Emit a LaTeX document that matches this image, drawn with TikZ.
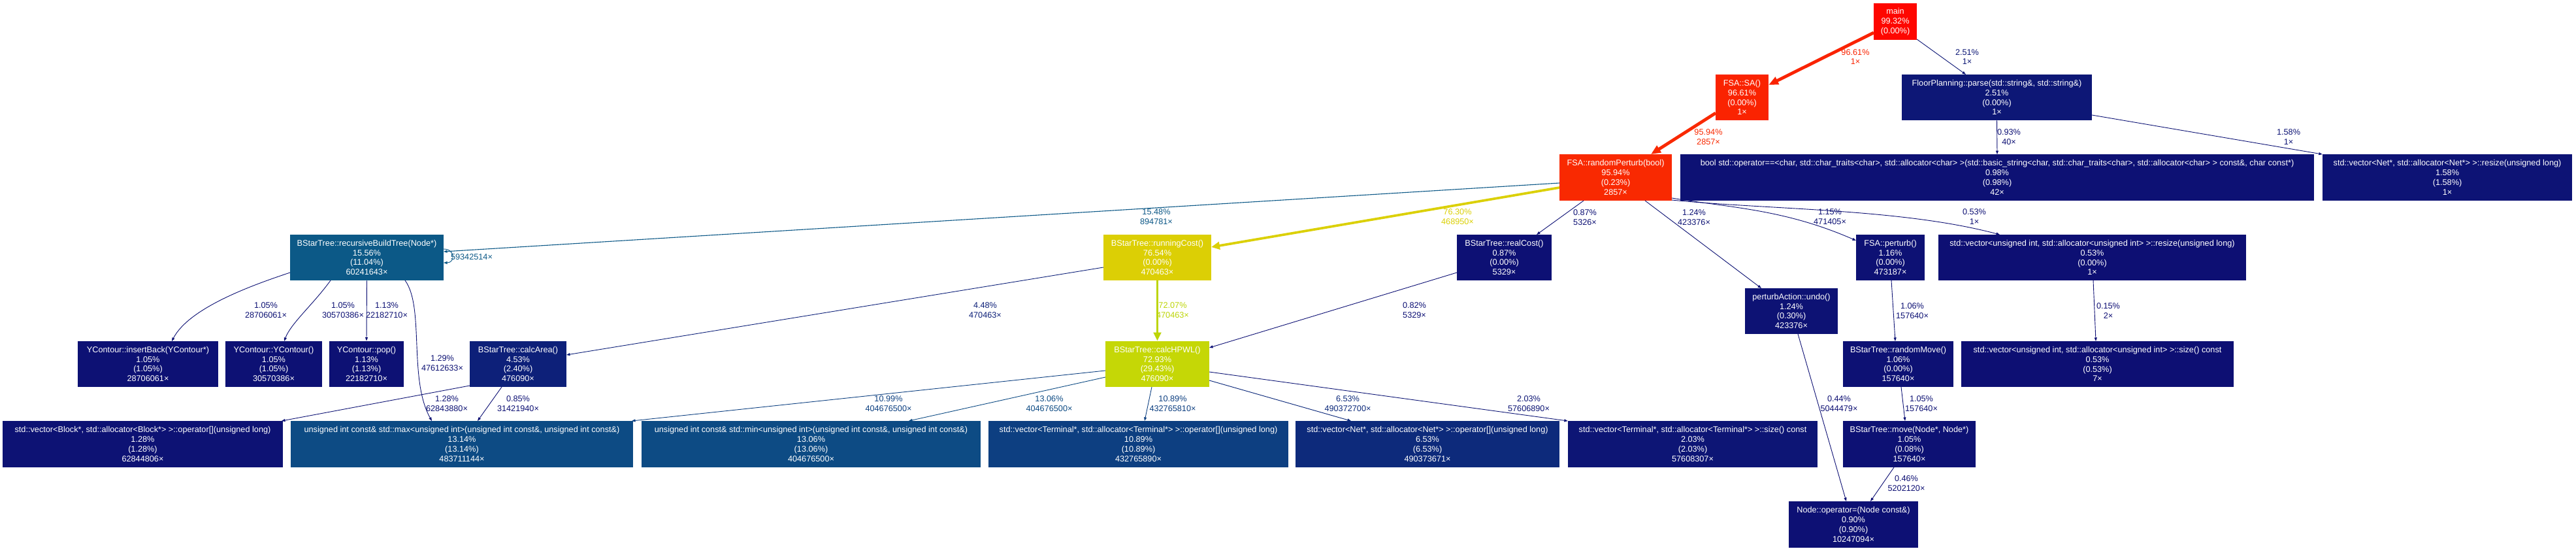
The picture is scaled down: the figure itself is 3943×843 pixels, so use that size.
\documentclass[tikz,border=0pt]{standalone}
\usepackage{fontspec}
\setmainfont{Liberation Sans}
\usetikzlibrary{arrows.meta,calc}
\definecolor{cMain}{RGB}{254,7,0}
\definecolor{cSA}{RGB}{250,35,1}
\definecolor{cRP}{RGB}{249,41,1}
\definecolor{cRC}{RGB}{220,207,5}
\definecolor{cRCe}{RGB}{219,208,5}
\definecolor{cHP}{RGB}{197,215,6}
\definecolor{cHPe}{RGB}{189,213,6}
\definecolor{cRBT}{RGB}{12,89,135}
\definecolor{cRBTe}{RGB}{12,88,135}
\definecolor{cMax}{RGB}{13,75,132}
\definecolor{cMaxE}{RGB}{13,64,129}
\definecolor{cTerm}{RGB}{13,63,129}
\definecolor{cNet}{RGB}{13,42,123}
\definecolor{cArea}{RGB}{13,32,121}
\definecolor{cFP}{RGB}{13,23,118}
\definecolor{cTs}{RGB}{13,21,117}
\definecolor{cN19}{RGB}{13,19,117}
\definecolor{cN18}{RGB}{13,18,116}
\definecolor{cN17}{RGB}{13,17,116}
\definecolor{cN16}{RGB}{13,16,116}
\definecolor{cN15}{RGB}{13,15,115}
\definecolor{cN13}{RGB}{13,13,115}
\newcommand\gpfont{\fontsize{12.7}{14.8}\selectfont}
\begin{document}
\begin{tikzpicture}[x=1pt,y=-1pt,
  fn/.style={rectangle, fill=#1, text=white, inner sep=0pt, minimum height=70.5pt, align=center, font=\gpfont},
  lb/.style={text=#1, inner sep=0pt, align=center, font=\gpfont},
  ed/.style={draw=#1, line width=0.9pt, -{Triangle[length=5.5pt,width=4pt]}},
  edthick/.style={draw=#1, line width=4.8pt, -{Triangle[length=15pt,width=12pt]}},
  edmid/.style={draw=#1, line width=3.7pt, -{Triangle[length=13pt,width=11.5pt]}}
]
\fill[white] (0,0) rectangle (3943,843);
\useasboundingbox (0,0) rectangle (3943,843);

% nodes
\node[fn=cMain, minimum width=66pt, minimum height=56pt] (main) at (2901,33) {main\\99.32\%\\(0.00\%)};
\node[fn=cSA, minimum width=81pt] (SA) at (2666.5,149) {FSA::SA()\\96.61\%\\(0.00\%)\\1×};
\node[fn=cFP, minimum width=291pt] (FP) at (3056.5,149) {FloorPlanning::parse(std::string\&, std::string\&)\\2.51\%\\(0.00\%)\\1×};
\node[fn=cRP, minimum width=172pt] (RP) at (2473,271.5) {FSA::randomPerturb(bool)\\95.94\%\\(0.23\%)\\2857×};
\node[fn=cN17, minimum width=970pt] (bool) at (3057,271.5) {bool std::operator==<char, std::char\_traits<char>, std::allocator<char> >(std::basic\_string<char, std::char\_traits<char>, std::allocator<char> > const\&, char const*)\\0.98\%\\(0.98\%)\\42×};
\node[fn=cN19, minimum width=382pt] (Netres) at (3746,271.5) {std::vector<Net*, std::allocator<Net*> >::resize(unsigned long)\\1.58\%\\(1.58\%)\\1×};
\node[fn=cRBT, minimum width=235pt] (RBT) at (561.5,394) {BStarTree::recursiveBuildTree(Node*)\\15.56\%\\(11.04\%)\\60241643×};
\node[fn=cRC, minimum width=165pt] (RC) at (1771.5,394) {BStarTree::runningCost()\\76.54\%\\(0.00\%)\\470463×};
\node[fn=cN16, minimum width=145pt] (realCost) at (2302.5,394) {BStarTree::realCost()\\0.87\%\\(0.00\%)\\5329×};
\node[fn=cN17, minimum width=105pt] (perturb) at (2893.5,394) {FSA::perturb()\\1.16\%\\(0.00\%)\\473187×};
\node[fn=cN15, minimum width=471pt] (uintres) at (3202.5,394) {std::vector<unsigned int, std::allocator<unsigned int> >::resize(unsigned long)\\0.53\%\\(0.00\%)\\1×};
\node[fn=cN18, minimum width=142pt] (undo) at (2742,476) {perturbAction::undo()\\1.24\%\\(0.30\%)\\423376×};
\node[fn=cN17, minimum width=215pt] (insertBack) at (226.5,557) {YContour::insertBack(YContour*)\\1.05\%\\(1.05\%)\\28706061×};
\node[fn=cN17, minimum width=148pt] (YContour) at (419,557) {YContour::YContour()\\1.05\%\\(1.05\%)\\30570386×};
\node[fn=cN17, minimum width=114pt] (pop) at (561,557) {YContour::pop()\\1.13\%\\(1.13\%)\\22182710×};
\node[fn=cArea, minimum width=148pt] (calcArea) at (793,557) {BStarTree::calcArea()\\4.53\%\\(2.40\%)\\476090×};
\node[fn=cHP, minimum width=159pt] (HPWL) at (1771.5,557) {BStarTree::calcHPWL()\\72.93\%\\(29.43\%)\\476090×};
\node[fn=cN17, minimum width=169pt] (randomMove) at (2905.5,557) {BStarTree::randomMove()\\1.06\%\\(0.00\%)\\157640×};
\node[fn=cN15, minimum width=417pt] (uintsize) at (3210.5,557) {std::vector<unsigned int, std::allocator<unsigned int> >::size() const\\0.53\%\\(0.53\%)\\7×};
\node[fn=cN18, minimum width=429pt] (Block) at (218.5,679.5) {std::vector<Block*, std::allocator<Block*> >::operator[](unsigned long)\\1.28\%\\(1.28\%)\\62844806×};
\node[fn=cMax, minimum width=524pt] (max) at (707,679.5) {unsigned int const\& std::max<unsigned int>(unsigned int const\&, unsigned int const\&)\\13.14\%\\(13.14\%)\\483711144×};
\node[fn=cMax, minimum width=519pt] (min) at (1241.5,679.5) {unsigned int const\& std::min<unsigned int>(unsigned int const\&, unsigned int const\&)\\13.06\%\\(13.06\%)\\404676500×};
\node[fn=cTerm, minimum width=459pt] (Terminal) at (1742.5,679.5) {std::vector<Terminal*, std::allocator<Terminal*> >::operator[](unsigned long)\\10.89\%\\(10.89\%)\\432765890×};
\node[fn=cNet, minimum width=404pt] (Net) at (2185,679.5) {std::vector<Net*, std::allocator<Net*> >::operator[](unsigned long)\\6.53\%\\(6.53\%)\\490373671×};
\node[fn=cTs, minimum width=382pt] (Tsize) at (2591,679.5) {std::vector<Terminal*, std::allocator<Terminal*> >::size() const\\2.03\%\\(2.03\%)\\57608307×};
\node[fn=cN17, minimum width=203pt] (move) at (2922.5,679.5) {BStarTree::move(Node*, Node*)\\1.05\%\\(0.08\%)\\157640×};
\node[fn=cN16, minimum width=198pt] (nodeeq) at (2837,802.5) {Node::operator=(Node const\&)\\0.90\%\\(0.90\%)\\10247094×};

% edges
\draw[edthick=cSA] ($(main)+(-33,17)$) -- ($(SA)+(40.5,-19)$);
\draw[ed=cFP] ($(main)+(33,27)$) -- ($(FP)+(-47.5,-35)$);
\draw[edthick=cRP] ($(SA)+(-40.5,24)$) -- ($(RP)+(54,-35.5)$);
\draw[ed=cN16] (FP.south) -- (bool.north);
\draw[ed=cN19] ($(FP)+(145.5,27)$) -- (Netres.north west);
\draw[ed=cRBTe, line width=1.1pt] ($(RP)+(-86,8.5)$) -- ($(RBT)+(117.5,-9)$);
\draw[edmid=cRCe] ($(RP)+(-86,15.5)$) -- ($(RC)+(82.5,-16)$);
\draw[ed=cN16] ($(RP)+(-49,35.5)$) -- ($(realCost)+(49.5,-35)$);
\draw[ed=cN18] ($(RP)+(45,35.5)$) -- ($(undo)+(-46,-35)$);
\draw[ed=cN17] ($(RP)+(86,31.5)$) .. controls +(91,15) and +(-110,-48) .. ($(perturb)+(-52.5,-26)$);
\draw[ed=cN15] ($(RP)+(86,34.5)$) .. controls +(150,15) and +(-150,-40) .. ($(uintres)+(-141.5,-35)$);
\draw[ed=cN17] ($(RBT)+(-117.5,23)$) .. controls +(-54,18) and +(27,-52) .. ($(insertBack)+(36.5,-35)$);
\draw[ed=cN17] ($(RBT)+(-55.5,35)$) .. controls +(-26,36) and +(10,-27) .. ($(YContour)+(16,-35)$);
\draw[ed=cN17] (RBT.south) -- (pop.north);
\draw[ed=cN18] ($(RBT)+(58.5,35)$) .. controls +(30,41) and +(-36,-64) .. ($(max)+(-46,-35.5)$);
\draw[ed=cRBT] ($(RBT)+(117.5,-13)$) .. controls +(18,0) and +(18,0) .. ($(RBT)+(117.5,8)$);
\draw[ed=cArea] ($(RC)+(-82.5,15)$) -- ($(calcArea)+(74,-14)$);
\draw[edmid=cHPe] (RC.south) -- (HPWL.north);
\draw[ed=cN16] ($(realCost)+(-72.5,23)$) -- ($(HPWL)+(79.5,-25)$);
\draw[ed=cN17] ($(perturb)+(1.5,35)$) -- ($(randomMove)+(-4.5,-35)$);
\draw[ed=cN13] ($(uintres)+(1.5,35)$) -- ($(uintsize)+(-2.5,-35)$);
\draw[ed=cN15] ($(undo)+(10,35)$) -- ($(nodeeq)+(-11,-35.5)$);
\draw[ed=cN17] ($(randomMove)+(4.5,35)$) -- ($(move)+(-6.5,-35.5)$);
\draw[ed=cN15] ($(move)+(-23.5,35.5)$) -- ($(nodeeq)+(26,-35.5)$);
\draw[ed=cN18] ($(calcArea)+(-74,33)$) -- ($(Block)+(212.5,-35.5)$);
\draw[ed=cN16] ($(calcArea)+(-25,35)$) -- ($(max)+(24,-35.5)$);
\draw[ed=cMaxE] ($(HPWL)+(-79.5,10)$) -- ($(max)+(260,-35.5)$);
\draw[ed=cMax] ($(HPWL)+(-79.5,20)$) -- ($(min)+(149.5,-35.5)$);
\draw[ed=cTerm] ($(HPWL)+(-8.5,35)$) -- ($(Terminal)+(9.5,-35.5)$);
\draw[ed=cNet] ($(HPWL)+(79.5,25)$) -- ($(Net)+(-117,-35.5)$);
\draw[ed=cTs] ($(HPWL)+(79.5,12)$) -- (Tsize.north west);

% edge labels
\node[lb=cSA] (l1) at (2840,87) {96.61\%\\1×};
\node[lb=cFP] (l2) at (3011,87) {2.51\%\\1×};
\node[lb=cRP] (l3) at (2615,209.5) {95.94\%\\2857×};
\node[lb=cN16] (l4) at (3075,209.5) {0.93\%\\40×};
\node[lb=cN19] (l5) at (3503,209.5) {1.58\%\\1×};
\node[lb=cRBTe] (l6) at (1770,332) {15.48\%\\894781×};
\node[lb=cRCe] (l7) at (2231,332) {76.30\%\\468950×};
\node[lb=cN16] (l8) at (2426,333) {0.87\%\\5326×};
\node[lb=cN18] (l9) at (2593,333) {1.24\%\\423376×};
\node[lb=cN17] (l10) at (2801,331.5) {1.15\%\\471405×};
\node[lb=cN15] (l11) at (3022,331.5) {0.53\%\\1×};
\node[lb=cN17] (l12) at (407,475) {1.05\%\\28706061×};
\node[lb=cN17] (l13) at (525,475) {1.05\%\\30570386×};
\node[lb=cN17] (l14) at (592,475) {1.13\%\\22182710×};
\node[lb=cN18] (l15) at (677,556) {1.29\%\\47612633×};
\node[lb=cRBT] (l16) at (722,393) {59342514×};
\node[lb=cArea] (l17) at (1508,475) {4.48\%\\470463×};
\node[lb=cHPe] (l18) at (1795,475) {72.07\%\\470463×};
\node[lb=cN16] (l19) at (2165,475) {0.82\%\\5329×};
\node[lb=cN17] (l20) at (2927,475.5) {1.06\%\\157640×};
\node[lb=cN13] (l21) at (3227,475.5) {0.15\%\\2×};
\node[lb=cN18] (l22) at (684,618) {1.28\%\\62843880×};
\node[lb=cN16] (l23) at (793,618) {0.85\%\\31421940×};
\node[lb=cMaxE] (l24) at (1360,618) {10.99\%\\404676500×};
\node[lb=cMax] (l25) at (1606,618) {13.06\%\\404676500×};
\node[lb=cTerm] (l26) at (1795,618) {10.89\%\\432765810×};
\node[lb=cNet] (l27) at (2063,618) {6.53\%\\490372700×};
\node[lb=cTs] (l28) at (2340,617.5) {2.03\%\\57606890×};
\node[lb=cN15] (l29) at (2815,617.5) {0.44\%\\5044479×};
\node[lb=cN17] (l30) at (2941,617.5) {1.05\%\\157640×};
\node[lb=cN15] (l31) at (2918,740) {0.46\%\\5202120×};
\end{tikzpicture}
\end{document}
